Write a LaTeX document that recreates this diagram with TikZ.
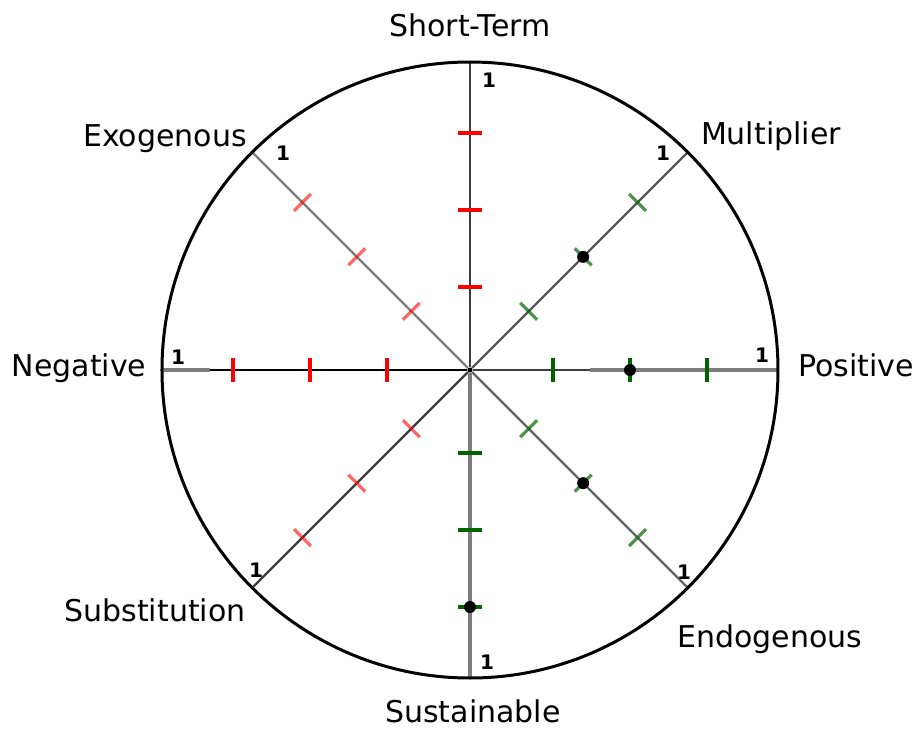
\documentclass[tikz,border=0pt]{standalone}
\usepackage{fontspec}
\setmainfont{DejaVu Sans}
\usetikzlibrary{positioning}
\definecolor{tickRed}{RGB}{255,0,0}
\definecolor{tickGreen}{RGB}{0,100,0}
\definecolor{spokeDark}{RGB}{60,60,60}
\definecolor{spokeGray}{RGB}{125,125,125}
\tikzset{
    axisLabel/.style={font=\fontsize{15}{15}\selectfont, inner sep=0pt, anchor=base},
    scaleMark/.style={font=\fontsize{10}{10}\selectfont\bfseries, inner sep=0pt},
    hub/.style={circle, fill=black, inner sep=0pt, minimum size=2.5pt},
    valueDot/.style={circle, fill=black, inner sep=0pt, minimum size=6pt},
    ring/.style={black, line width=1.5pt},
    spoke/.style={spokeDark, line width=1.2pt},
    spokeBar/.style={spokeGray, line width=2.2pt},
    negTick/.style={tickRed, line width=1.6pt},
    posTick/.style={tickGreen, line width=1.6pt},
}
\newcommand{\drawTicks}[2]{
    \foreach \r in {83,160,237}
        \draw[#2, rotate=#1] (\r,-12) -- (\r,12);
}

\begin{document}
\begin{tikzpicture}[x=0.5pt, y=0.5pt]

        \useasboundingbox (-470,-359) rectangle (447,370);

        \node[hub] (hub) at (0,0) {};
        \coordinate (eST) at (90:308);
        \coordinate (eEX) at (135:308);
        \coordinate (eNG) at (180:308);
        \coordinate (eSU) at (225:308);
        \coordinate (eSB) at (270:308);
        \coordinate (eEN) at (315:308);
        \coordinate (ePO) at (0:308);
        \coordinate (eMU) at (45:308);
        \coordinate (bNG) at (-260,0);
        \coordinate (bPO) at (120,0);

        % spokes
        \draw[spoke, line width=1.4pt] (hub) -- (eST);
        \draw[spoke, spokeGray] (hub) -- (eEX);
        \draw[spoke, black] (hub) -- (eNG);
        \draw[spokeBar] (bNG) -- (eNG);
        \draw[spoke] (hub) -- (eSU);
        \draw[spokeBar] (hub) -- (eSB);
        \draw[spoke, spokeGray!80!black] (hub) -- (eEN);
        \draw[spoke] (hub) -- (bPO);
        \draw[spokeBar] (bPO) -- (ePO);
        \draw[spoke, spokeGray!70!black] (hub) -- (eMU);

        \draw[ring] (hub.center) circle (308);

        % ticks
        \drawTicks{90}{negTick}
        \drawTicks{135}{negTick, opacity=0.6}
        \drawTicks{180}{negTick}
        \drawTicks{225}{negTick, opacity=0.6}
        \drawTicks{270}{posTick}
        \drawTicks{315}{posTick, opacity=0.7}
        \drawTicks{0}{posTick}
        \drawTicks{45}{posTick, opacity=0.7}

        % values
        \node[valueDot] (vMU) at (45:160) {};
        \node[valueDot] (vPO) at (0:160) {};
        \node[valueDot] (vEN) at (315:160) {};
        \node[valueDot] (vSB) at (270:237) {};

        % scale marks
        \node[scaleMark] (sST) at (19,290) {1};
        \node[scaleMark] (sEX) at (-187,217) {1};
        \node[scaleMark] (sMU) at (193,217) {1};
        \node[scaleMark] (sNG) at (-292,13) {1};
        \node[scaleMark] (sPO) at (292,15) {1};
        \node[scaleMark] (sSU) at (-214,-200) {1};
        \node[scaleMark] (sEN) at (214,-202) {1};
        \node[scaleMark] (sSB) at (17,-292) {1};

        % labels
        \node[axisLabel] (lST) at (0,333.5) {Short-Term};
        \node[axisLabel] (lEX) at (-305,223.5) {Exogenous};
        \node[axisLabel] (lMU) at (301,225.5) {Multiplier};
        \node[axisLabel] (lNG) at (-391,-6.5) {Negative};
        \node[axisLabel] (lPO) at (386,-6.5) {Positive};
        \node[axisLabel] (lSU) at (-315,-251.5) {Substitution};
        \node[axisLabel] (lEN) at (300,-277.5) {Endogenous};
        \node[axisLabel] (lSB) at (3,-352.5) {Sustainable};

    \end{tikzpicture}
\end{document}
